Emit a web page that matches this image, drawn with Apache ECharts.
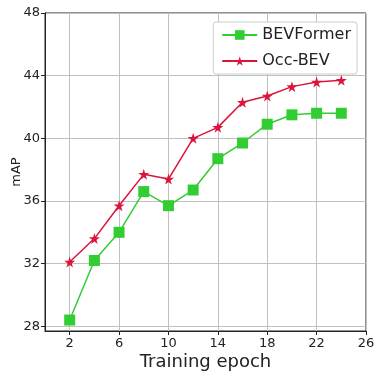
<!DOCTYPE html>
<html>
<head>
<meta charset="utf-8">
<script src="https://cdn.jsdelivr.net/npm/echarts@6/dist/echarts.min.js"></script>
<style>
  html, body { margin: 0; padding: 0; background: #fff; }
  #chart { width: 383px; height: 377px; }
</style>
</head>
<body>
<div id="chart"></div>
<script>
const epochs = [2, 4, 6, 8, 10, 12, 14, 16, 18, 20, 22, 24];
const bevformer = [28.4, 32.2, 34.0, 36.6, 35.7, 36.7, 38.7, 39.7, 40.9, 41.5, 41.6, 41.6];
const occBev = [32.1, 33.6, 35.7, 37.7, 37.4, 40.0, 40.7, 42.3, 42.7, 43.3, 43.6, 43.7];
const xTicks = [2, 6, 10, 14, 18, 22, 26];
const yTicks = [28, 32, 36, 40, 44, 48];

const star = 'path://M50,0 L61,35 L98,35 L68,57 L79,91 L50,70 L21,91 L32,57 L2,35 L39,35 Z';
const font = 'DejaVu Sans';

let chart = echarts.init(document.getElementById('chart'));
var option;

option = {
    animation: false,
    backgroundColor: '#fff',
    grid: {
        left: 45,
        right: 17,
        top: 13,
        bottom: 46,
        containLabel: false,
        outerBoundsMode: 'none',
        show: true,
        borderColor: '#222',
        borderWidth: 1
    },
    legend: {
        right: 26,
        top: 22,
        orient: 'vertical',
        backgroundColor: '#fff',
        borderColor: '#ccc',
        borderWidth: 1,
        borderRadius: 3,
        padding: [5, 6, 5, 8],
        itemGap: 10,
        itemWidth: 35,
        itemHeight: 12,
        textStyle: { fontFamily: font, fontSize: 16, color: '#222' },
        data: ['BEVFormer', 'Occ-BEV']
    },
    xAxis: {
        type: 'value',
        min: 0,
        max: 26,
        name: 'Training epoch',
        nameLocation: 'middle',
        nameGap: 22,
        nameMoveOverlap: false,
        nameTextStyle: { fontFamily: font, fontSize: 18, color: '#222' },
        axisLine: { show: true, lineStyle: { color: '#222', width: 1 } },
        axisTick: { show: true, length: 4, customValues: xTicks, lineStyle: { color: '#222' } },
        axisLabel: { customValues: xTicks, fontFamily: font, fontSize: 13, color: '#222', margin: 6 },
        splitLine: { show: true, lineStyle: { color: '#c0c0c0', width: 1 } }
    },
    yAxis: {
        type: 'value',
        min: 27.7,
        max: 48,
        name: 'mAP',
        nameLocation: 'middle',
        nameGap: 22,
        nameMoveOverlap: false,
        nameTextStyle: { fontFamily: font, fontSize: 13, color: '#222' },
        axisLine: { show: true, lineStyle: { color: '#222', width: 1 } },
        axisTick: { show: true, length: 4, customValues: yTicks, lineStyle: { color: '#222' } },
        axisLabel: { customValues: yTicks, fontFamily: font, fontSize: 13, color: '#222', margin: 5 },
        splitLine: { show: true, lineStyle: { color: '#c0c0c0', width: 1 } }
    },
    series: [
        {
            name: 'BEVFormer',
            type: 'line',
            data: epochs.map((e, i) => [e, bevformer[i]]),
            symbol: 'rect',
            symbolSize: 11,
            lineStyle: { color: '#32cd32', width: 1.5 },
            itemStyle: { color: '#32cd32' }
        },
        {
            name: 'Occ-BEV',
            type: 'line',
            data: epochs.map((e, i) => [e, occBev[i]]),
            symbol: star,
            symbolSize: 11,
            lineStyle: { color: '#dc143c', width: 1.5 },
            itemStyle: { color: '#dc143c' }
        }
    ]
};
chart.setOption(option);
</script>
</body>
</html>
